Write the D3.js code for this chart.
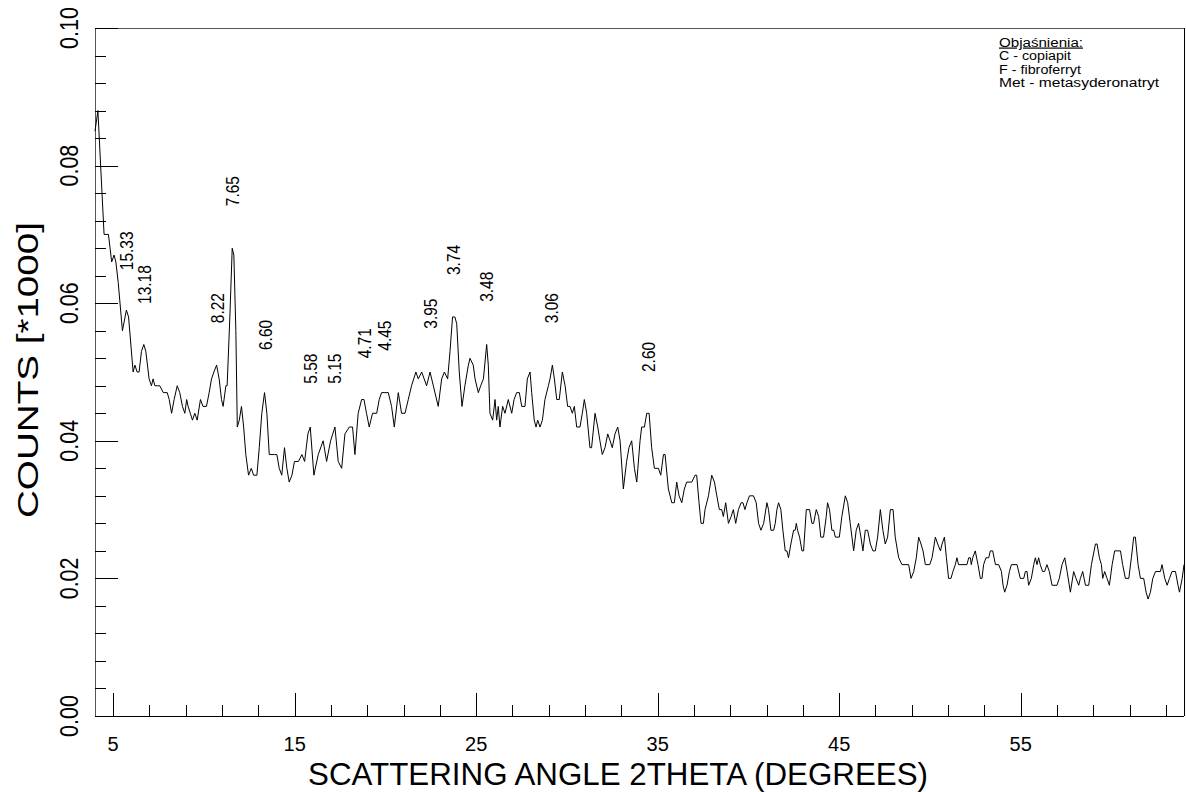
<!DOCTYPE html>
<html>
<head>
<meta charset="utf-8">
<script src="https://cdn.jsdelivr.net/npm/d3@7/dist/d3.min.js"></script>
<style>
  body { margin: 0; background: #fff; }
  text { font-family: "Liberation Sans", Arial, Helvetica, sans-serif; fill: #000; }
</style>
</head>
<body>
<div id="chart"></div>
<script>
// Diffractogram: [2theta (deg), counts]
const trace = [
  [4.00, 85], [4.16, 88], [4.50, 70], [4.74, 70], [4.92, 66], [5.05, 67], [5.15, 66], [5.28, 63],
  [5.51, 56], [5.73, 59], [5.85, 58], [6.10, 50], [6.20, 51], [6.32, 50], [6.43, 50], [6.56, 53],
  [6.69, 54], [6.80, 53], [6.98, 49], [7.11, 48], [7.20, 49], [7.30, 48], [7.43, 48], [7.57, 48],
  [7.76, 47], [7.98, 47], [8.09, 46], [8.22, 44], [8.36, 46], [8.53, 48], [8.67, 47], [8.82, 45],
  [8.95, 44], [9.05, 46], [9.13, 45], [9.25, 44], [9.37, 43], [9.50, 44], [9.63, 43], [9.81, 46],
  [9.95, 45], [10.14, 45], [10.29, 47], [10.42, 49], [10.55, 50], [10.70, 51], [10.84, 49], [10.97, 46],
  [11.06, 45], [11.21, 48], [11.28, 48], [11.43, 58], [11.56, 68], [11.65, 67], [11.76, 56], [11.84, 42],
  [11.95, 43], [12.07, 45], [12.19, 42], [12.31, 38], [12.46, 35], [12.61, 36], [12.74, 35], [12.92, 35],
  [13.05, 39], [13.19, 44], [13.34, 47], [13.47, 44], [13.60, 38], [13.75, 38], [13.89, 38], [14.02, 38],
  [14.15, 36], [14.29, 35], [14.44, 39], [14.57, 36], [14.70, 34], [14.85, 35], [14.99, 37], [15.21, 37],
  [15.40, 38], [15.55, 37], [15.73, 41], [15.86, 42], [16.06, 35], [16.30, 38], [16.57, 40], [16.76, 37],
  [16.98, 40], [17.22, 42], [17.40, 37], [17.59, 36], [17.77, 41], [18.01, 42], [18.19, 42], [18.32, 38],
  [18.50, 44], [18.69, 46], [18.82, 46], [18.96, 44], [19.11, 42], [19.29, 44], [19.52, 44], [19.66, 46],
  [19.79, 47], [19.97, 47], [20.16, 47], [20.34, 45], [20.49, 42], [20.71, 47], [20.89, 44], [21.08, 44],
  [21.26, 46], [21.44, 48], [21.68, 50], [21.81, 49], [22.00, 50], [22.27, 48], [22.46, 50], [22.64, 48],
  [22.91, 45], [23.10, 49], [23.25, 50], [23.43, 49], [23.56, 53], [23.70, 58], [23.83, 58], [23.93, 57],
  [24.07, 50], [24.22, 45], [24.38, 48], [24.57, 51], [24.66, 52], [24.84, 51], [24.94, 49], [25.12, 47],
  [25.25, 48], [25.40, 49], [25.58, 54], [25.67, 51], [25.76, 44], [25.91, 43], [26.04, 46], [26.13, 43],
  [26.22, 45], [26.31, 42], [26.46, 45], [26.59, 44], [26.77, 46], [26.96, 44], [27.09, 46], [27.23, 47],
  [27.38, 47], [27.51, 45], [27.69, 45], [27.82, 49], [27.97, 50], [28.06, 47], [28.20, 43], [28.30, 42],
  [28.39, 43], [28.52, 42], [28.65, 43], [28.79, 46], [28.98, 48], [29.07, 49], [29.20, 51], [29.31, 49],
  [29.44, 46], [29.58, 46], [29.75, 50], [29.90, 48], [30.04, 45], [30.17, 45], [30.30, 44], [30.41, 45],
  [30.54, 42], [30.72, 42], [30.85, 44], [30.96, 46], [31.09, 44], [31.27, 39], [31.36, 39], [31.55, 44],
  [31.70, 42], [31.82, 40], [31.95, 38], [32.10, 39], [32.25, 41], [32.38, 40], [32.50, 39], [32.65, 41],
  [32.80, 42], [32.93, 40], [33.11, 33], [33.29, 37], [33.42, 39], [33.57, 40], [33.72, 36], [33.85, 34],
  [34.03, 40], [34.12, 42], [34.27, 42], [34.40, 44], [34.53, 44], [34.67, 39], [34.82, 36], [35.04, 36],
  [35.17, 35], [35.32, 38], [35.41, 38], [35.59, 33], [35.78, 31], [35.92, 31], [36.05, 34], [36.18, 32],
  [36.33, 31], [36.47, 33], [36.60, 34], [36.88, 34], [37.06, 35], [37.15, 35], [37.28, 31], [37.39, 28],
  [37.52, 28], [37.61, 30], [37.80, 32], [37.98, 35], [38.13, 34], [38.26, 32], [38.40, 30], [38.53, 30],
  [38.62, 29], [38.75, 31], [38.90, 28], [39.05, 29], [39.17, 30], [39.30, 28], [39.45, 30], [39.60, 31],
  [39.70, 31], [39.81, 30], [39.92, 31], [40.06, 32], [40.28, 32], [40.43, 31], [40.56, 28], [40.69, 27],
  [40.84, 28], [41.02, 31], [41.11, 30], [41.24, 27], [41.39, 27], [41.48, 28], [41.57, 30], [41.66, 31],
  [41.79, 30], [41.90, 27], [42.03, 24], [42.12, 24], [42.21, 23], [42.34, 25], [42.49, 27], [42.58, 27],
  [42.64, 28], [42.71, 27], [42.82, 26], [42.95, 24], [43.04, 24], [43.19, 30], [43.37, 30], [43.50, 28],
  [43.59, 28], [43.74, 30], [43.87, 29], [43.99, 26], [44.14, 26], [44.29, 29], [44.36, 31], [44.47, 30],
  [44.60, 27], [44.70, 27], [44.79, 26], [44.88, 26], [45.01, 26], [45.15, 29], [45.34, 32], [45.47, 31],
  [45.61, 28], [45.80, 24], [45.94, 27], [46.07, 28], [46.20, 26], [46.31, 24], [46.44, 27], [46.57, 27],
  [46.72, 25], [46.86, 24], [46.99, 24], [47.12, 26], [47.27, 30], [47.41, 27], [47.54, 25], [47.67, 26],
  [47.82, 30], [47.97, 30], [48.09, 26], [48.28, 23], [48.46, 22], [48.83, 22], [48.96, 20], [49.11, 21],
  [49.25, 23], [49.38, 26], [49.51, 25], [49.62, 24], [49.75, 22], [49.99, 22], [50.12, 23], [50.30, 26],
  [50.43, 25], [50.58, 24], [50.67, 25], [50.80, 26], [50.91, 23], [51.03, 20], [51.16, 20], [51.27, 21],
  [51.40, 22], [51.49, 23], [51.58, 22], [52.04, 22], [52.14, 23], [52.23, 23], [52.28, 22], [52.36, 23],
  [52.50, 24], [52.65, 22], [52.78, 20], [52.87, 20], [52.96, 22], [53.09, 23], [53.24, 23], [53.33, 24],
  [53.46, 24], [53.61, 22], [53.79, 22], [53.94, 21], [54.03, 19], [54.12, 18], [54.25, 19], [54.38, 21],
  [54.49, 22], [54.80, 22], [54.98, 20], [55.17, 20], [55.26, 21], [55.35, 21], [55.44, 19], [55.59, 20],
  [55.72, 22], [55.81, 23], [55.90, 22], [55.99, 23], [56.08, 22], [56.21, 21], [56.32, 21], [56.45, 22],
  [56.58, 21], [56.73, 19], [57.00, 19], [57.13, 20], [57.28, 22], [57.43, 23], [57.56, 21], [57.74, 18],
  [57.92, 21], [58.05, 20], [58.20, 19], [58.29, 20], [58.42, 21], [58.57, 19], [58.75, 19], [58.90, 22],
  [59.12, 25], [59.21, 25], [59.34, 23], [59.45, 22], [59.52, 20], [59.63, 21], [59.76, 20], [59.89, 19],
  [60.04, 22], [60.18, 24], [60.50, 24], [60.62, 22], [60.77, 20], [60.96, 20], [61.10, 23], [61.23, 26],
  [61.32, 26], [61.47, 22], [61.60, 20], [61.78, 20], [61.91, 18], [62.02, 17], [62.15, 18], [62.28, 20],
  [62.43, 21], [62.70, 21], [62.79, 22], [62.94, 20], [63.07, 19], [63.20, 20], [63.34, 21], [63.53, 21],
  [63.67, 19], [63.75, 18], [63.90, 20], [64.00, 22]
];

// Peak annotations (d-spacing labels), their 2theta position and the level where the label starts
const peakAngle = [5.76, 6.70, 10.75, 11.56, 13.40, 15.87, 17.20, 18.83, 19.94, 22.49, 23.77, 25.58, 29.16, 34.47];
const peakLabel = ["15.33", "13.18", "8.22", "7.65", "6.60", "5.58", "5.15", "4.71", "4.45", "3.95", "3.74", "3.48", "3.06", "2.60"];
const peakLevel = [64.8, 59.9, 57.1, 74.1, 53.2, 48.3, 48.3, 52.0, 53.1, 56.3, 64.1, 60.2, 57.1, 50.0];

const xTickLabels = [5, 15, 25, 35, 45, 55];
const yTickValues = [0, 20, 40, 60, 80, 100];
const yTickLabels = ["0.00", "0.02", "0.04", "0.06", "0.08", "0.10"];
const legendLines = ["Objaśnienia:", "C - copiapit", "F - fibroferryt", "Met - metasyderonatryt"];

const W = 1186, H = 792;
const margin = { top: 28, right: 2, bottom: 76, left: 95 };

const svg = d3.select("#chart").append("svg")
  .attr("width", W)
  .attr("height", H);

const x = d3.scaleLinear().domain([4, 64]).range([margin.left, W - margin.right]);
const y = d3.scaleLinear().domain([0, 100]).range([H - margin.bottom, margin.top]);

// frame
const frame = svg.append("g").attr("stroke", "#000").attr("stroke-width", 1).attr("shape-rendering", "crispEdges");
frame.append("line").attr("x1", x(4)).attr("x2", x(64)).attr("y1", y(100)).attr("y2", y(100)).attr("stroke", "#555");
frame.append("line").attr("x1", x(64)).attr("x2", x(64)).attr("y1", y(100)).attr("y2", y(0));
frame.append("line").attr("x1", x(4)).attr("x2", x(4)).attr("y1", y(100)).attr("y2", y(0)).attr("stroke", "#555");
frame.append("line").attr("x1", x(4)).attr("x2", x(64)).attr("y1", y(0)).attr("y2", y(0));

// inward ticks
const xTicksAll = d3.range(5, 64, 2);
const xAxis = d3.axisBottom(x)
  .tickValues(xTicksAll)
  .tickSizeOuter(0)
  .tickFormat("");
const gx = svg.append("g").attr("transform", `translate(0,${y(0)})`).call(xAxis);
gx.select(".domain").remove();
gx.selectAll(".tick line")
  .attr("y2", d => (d - 5) % 10 === 0 ? -23 : -11)
  .attr("stroke", "#000")
  .attr("shape-rendering", "crispEdges");

const yTicksAll = d3.range(0, 101, 4);
const yAxis = d3.axisLeft(y)
  .tickValues(yTicksAll)
  .tickSizeOuter(0)
  .tickFormat("");
const gy = svg.append("g").attr("transform", `translate(${x(4)},0)`).call(yAxis);
gy.select(".domain").remove();
gy.selectAll(".tick line")
  .attr("x2", d => d % 20 === 0 ? 23 : 11)
  .attr("stroke", "#000")
  .attr("shape-rendering", "crispEdges");

// tick labels
svg.append("g").selectAll("text")
  .data(xTickLabels)
  .join("text")
  .attr("x", d => x(d))
  .attr("y", 751)
  .attr("text-anchor", "middle")
  .style("font-size", "20px")
  .text(d => d);

svg.append("g").selectAll("text")
  .data(yTickValues)
  .join("text")
  .attr("transform", d => `translate(78,${y(d)}) rotate(-90) scale(0.86,1)`)
  .attr("text-anchor", "middle")
  .style("font-size", "25px")
  .text((d, i) => yTickLabels[i]);

// axis titles
svg.append("text")
  .attr("x", 618)
  .attr("y", 785)
  .attr("text-anchor", "middle")
  .attr("textLength", 620)
  .attr("lengthAdjust", "spacingAndGlyphs")
  .style("font-size", "31px")
  .text("SCATTERING ANGLE 2THETA (DEGREES)");

svg.append("text")
  .attr("transform", "translate(38,370) rotate(-90)")
  .attr("text-anchor", "middle")
  .attr("textLength", 296)
  .attr("lengthAdjust", "spacingAndGlyphs")
  .style("font-size", "30px")
  .text("COUNTS [*1000]");

// the pattern
const line = d3.line()
  .x(d => x(d[0]))
  .y(d => y(d[1]));

svg.append("path")
  .datum(trace)
  .attr("fill", "none")
  .attr("stroke", "#000")
  .attr("stroke-width", 1)
  .attr("stroke-linejoin", "round")
  .attr("d", line);

// peak labels
svg.append("g").selectAll("text")
  .data(peakAngle)
  .join("text")
  .attr("transform", (d, i) => `translate(${x(d) + 6.5},${y(peakLevel[i])}) rotate(-90) scale(0.86,1)`)
  .attr("text-anchor", "start")
  .style("font-size", "18px")
  .text((d, i) => peakLabel[i]);

// legend text
const legendBase = [46.5, 60, 73.5, 87];
const legendWidths = [84, 72, 82, 160];
svg.append("g").selectAll("text")
  .data(legendLines)
  .join("text")
  .attr("x", 999)
  .attr("y", (d, i) => legendBase[i])
  .attr("textLength", (d, i) => legendWidths[i])
  .attr("lengthAdjust", "spacingAndGlyphs")
  .style("font-size", "12px")
  .style("text-decoration", (d, i) => i === 0 ? "underline" : null)
  .text(d => d);
</script>
</body>
</html>
